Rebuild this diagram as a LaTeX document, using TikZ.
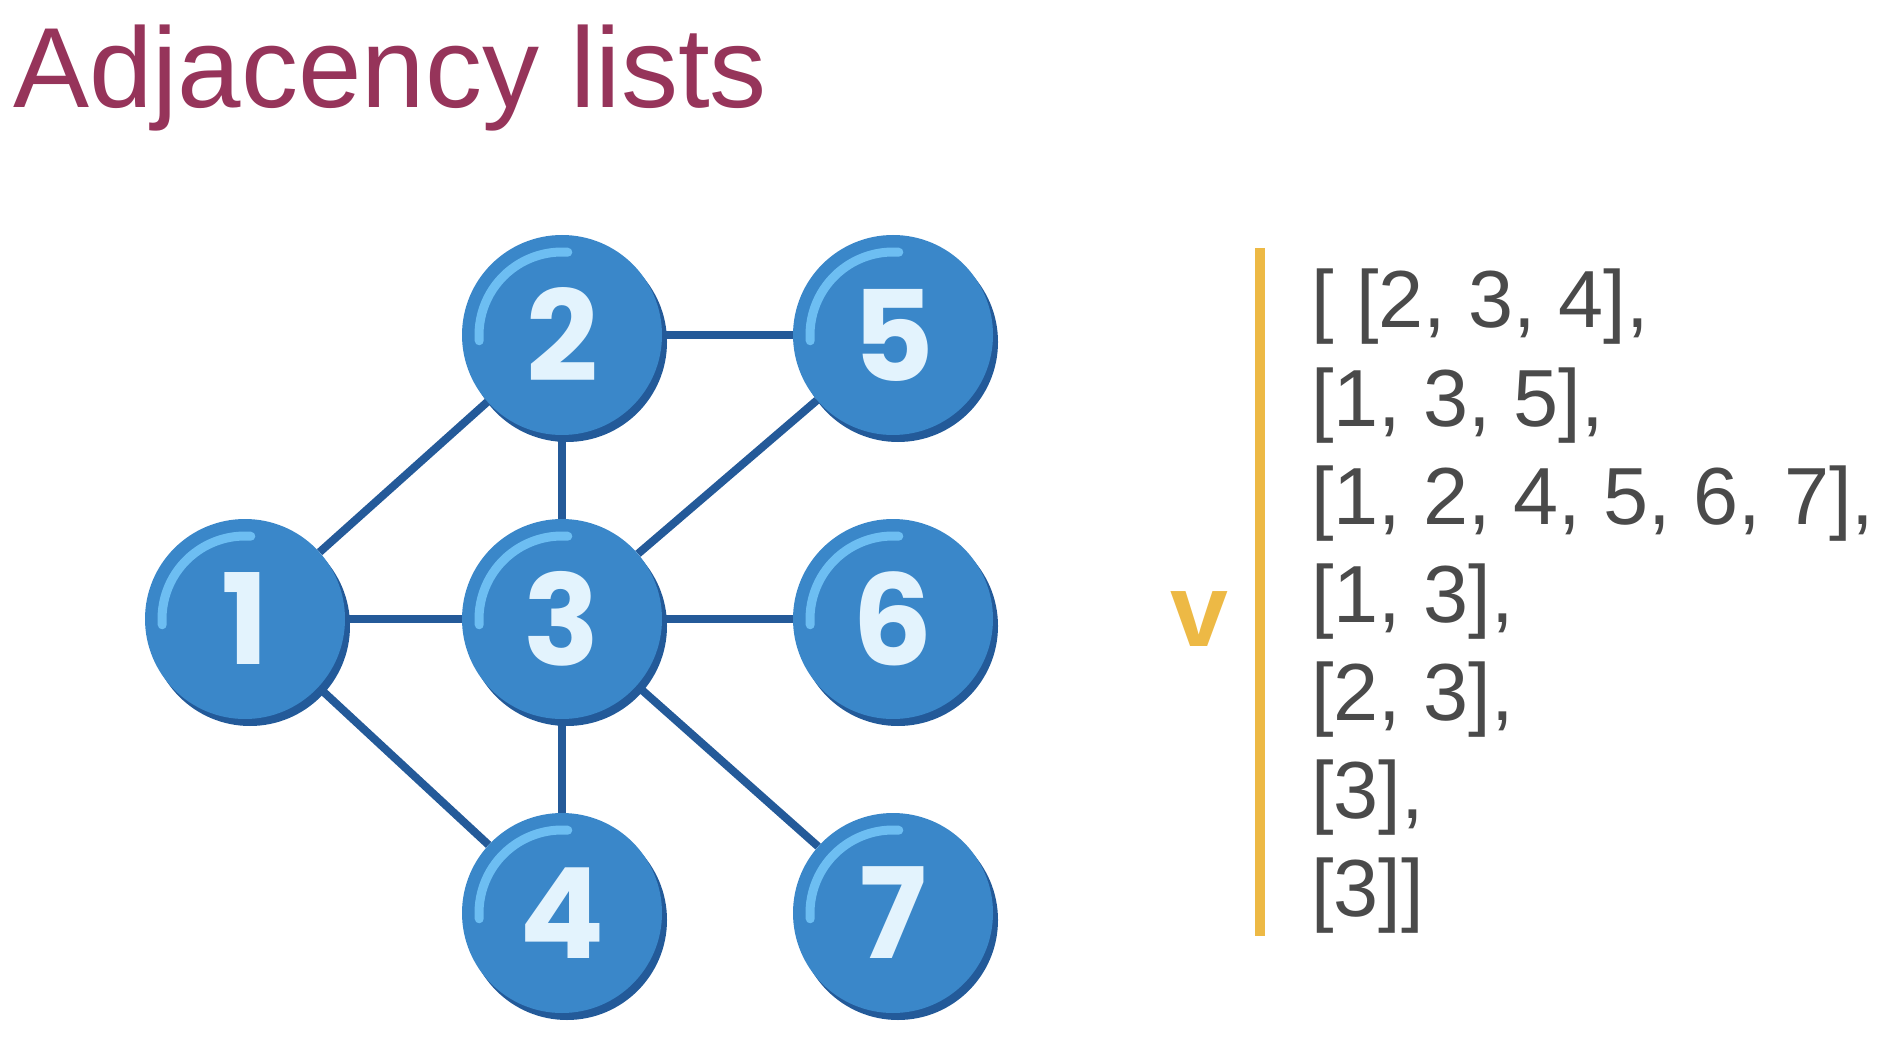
\documentclass[tikz,border=0pt]{standalone}
\usepackage{fontspec}
\setmainfont{Liberation Sans}
\newfontfamily\numfont{Poppins}
\usetikzlibrary{shadows,backgrounds}
\definecolor{titlecol}{HTML}{96345A}
\definecolor{txtgray}{HTML}{4A4A4A}
\definecolor{barcol}{HTML}{EDB945}
\definecolor{ballcol}{HTML}{3A87C9}
\definecolor{shadcol}{HTML}{235A99}
\definecolor{hlcol}{HTML}{6DBEF2}
\definecolor{digcol}{HTML}{E3F3FD}
\definecolor{edgecol}{HTML}{245A99}
\begin{document}
\begin{tikzpicture}[x=1pt,y=-1pt,
  ball/.style={circle, minimum size=200pt, inner sep=0pt, fill=ballcol,
    text=digcol, font=\numfont\bfseries\fontsize{126}{130}\selectfont,
    drop shadow={shadow xshift=5pt, shadow yshift=-7pt, fill=shadcol, opacity=1}},
  edge/.style={draw=edgecol, line width=8pt},
  hl/.style={draw=hlcol, line width=9pt, line cap=round},
  lst/.style={anchor=base west, inner sep=0pt, text=txtgray, font=\fontsize{81}{98}\selectfont}]
\useasboundingbox (0,0) rectangle (1892,1040);
% title
\node[anchor=base west, inner sep=0pt, text=titlecol, font=\fontsize{114}{134}\selectfont] (title) at (13,108) {Adjacency lists};
% nodes
\node[ball] (n2) at (562,335) {2};
\node[ball] (n5) at (893,335) {5};
\node[ball] (n1) at (245,619) {1};
\node[ball] (n3) at (562,619) {3};
\node[ball] (n6) at (893,619) {6};
\node[ball] (n4) at (562,913) {4};
\node[ball] (n7) at (893,913) {7};
% edges
\begin{scope}[on background layer]
\draw[edge] (n2) -- (n5);
\draw[edge] (n1) -- (n2);
\draw[edge] (n2) -- (n3);
\draw[edge] (n5) -- (n3);
\draw[edge] (n1) -- (n3);
\draw[edge] (n3) -- (n6);
\draw[edge] (n1) -- (n4);
\draw[edge] (n3) -- (n4);
\draw[edge] (n3) -- (n7);
\end{scope}
% highlights
\foreach \n in {n1,n2,n3,n4,n5,n6,n7}
  \draw[hl] ([shift={(184:83pt)}]\n.center) arc[start angle=184, end angle=86, radius=83pt];
% v and bar
\node[anchor=base, inner sep=0pt, text=barcol, font=\bfseries\fontsize{104}{110}\selectfont] (v) at (1199,646) {v};
\coordinate (bt) at (1260,248);
\coordinate (bb) at (1260,936);
\draw[draw=barcol, line width=10pt] (bt) -- (bb);
% lists
\node[lst] (l1) at (1311,328) {[ [2, 3, 4],};
\node[lst] (l2) at (1311,426) {[1, 3, 5],};
\node[lst] (l3) at (1311,524) {[1, 2, 4, 5, 6, 7],};
\node[lst] (l4) at (1311,622) {[1, 3],};
\node[lst] (l5) at (1311,720) {[2, 3],};
\node[lst] (l6) at (1311,818) {[3],};
\node[lst] (l7) at (1311,916) {[3]]};
\end{tikzpicture}
\end{document}
